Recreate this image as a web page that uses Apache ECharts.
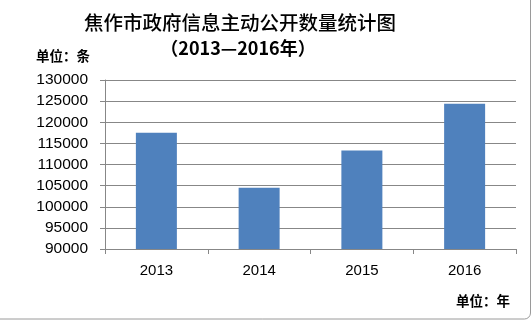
<!DOCTYPE html>
<html><head><meta charset="utf-8">
<script src="https://cdn.jsdelivr.net/npm/echarts@6/dist/echarts.min.js"></script>
<style>html,body{margin:0;padding:0;background:#fff}#c{width:532px;height:323px}</style>
</head><body><div id="c"></div>
<script>
const categories = ['2013', '2014', '2015', '2016'];
const values = [117500, 104500, 113300, 124400];
const titleText = '焦作市政府信息主动公开数量统计图';
const subtitleText = '（2013—2016年）';
const yUnit = '单位：条';
const xUnit = '单位：年';

const chart = echarts.init(document.getElementById('c'));
chart.setOption({
  animation: false,
  backgroundColor: '#fff',
  graphic: [
    {type: 'rect', shape: {x: -6, y: -6, width: 536.5, height: 325, r: 6}, style: {fill: 'none', stroke: '#9a9a9a', lineWidth: 1}, z: 100},
    {type: 'text', style: {text: titleText, x: 240, y: 23, align: 'center', verticalAlign: 'middle', font: '500 19.5px "Noto Sans CJK SC"', fill: '#000'}},
    {type: 'text', style: {text: subtitleText, x: 238, y: 48, align: 'center', verticalAlign: 'middle', font: 'bold 18px "Noto Sans CJK SC"', fill: '#000'}},
    {type: 'text', style: {text: yUnit, x: 36, y: 56, align: 'left', verticalAlign: 'middle', font: 'bold 13.5px "Noto Sans CJK SC"', fill: '#000'}},
    {type: 'text', style: {text: xUnit, x: 456, y: 301, align: 'left', verticalAlign: 'middle', font: 'bold 13.5px "Noto Sans CJK SC"', fill: '#000'}}
  ],
  grid: {left: 105, right: 16, top: 80, bottom: 74, containLabel: false},
  xAxis: {
    type: 'category', data: categories,
    axisLine: {lineStyle: {color: '#878787'}},
    axisTick: {show: true, length: 5, lineStyle: {color: '#878787'}},
    axisLabel: {color: '#000', fontFamily: 'Liberation Sans', fontSize: 15, margin: 14}
  },
  yAxis: {
    type: 'value', min: 90000, max: 130000, interval: 5000,
    axisLine: {show: true, lineStyle: {color: '#878787'}},
    axisTick: {show: true, length: 5, lineStyle: {color: '#878787'}},
    splitLine: {lineStyle: {color: '#878787'}},
    axisLabel: {color: '#000', fontFamily: 'Liberation Sans', fontSize: 15.5, margin: 17, formatter: v => String(v)}
  },
  series: [{type: 'bar', data: values, barWidth: 41, itemStyle: {color: '#4F81BD'}}]
});
</script></body></html>
